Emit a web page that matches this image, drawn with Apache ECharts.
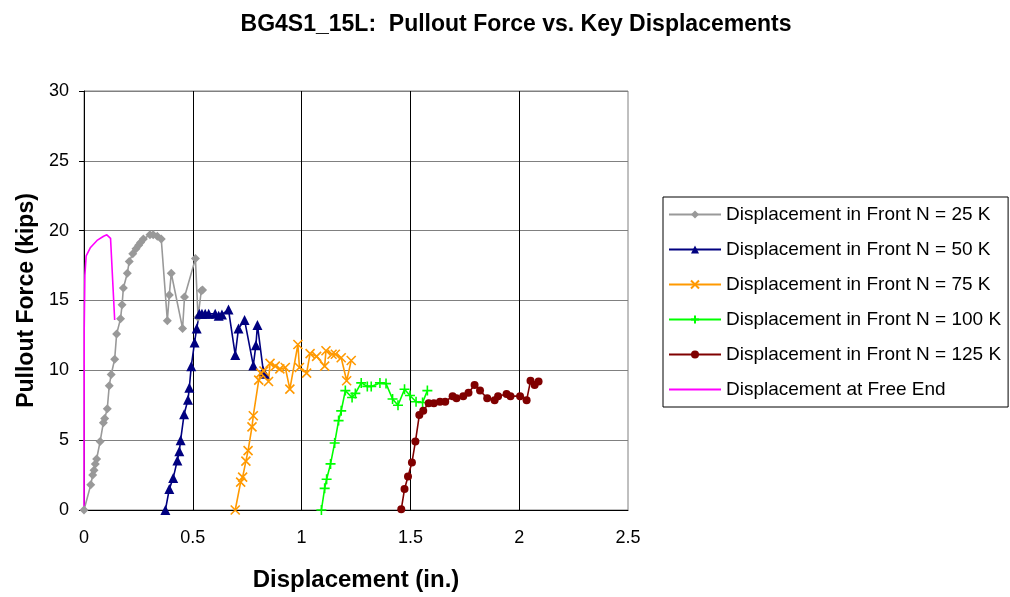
<!DOCTYPE html>
<html>
<head>
<meta charset="utf-8">
<script src="https://cdn.jsdelivr.net/npm/echarts@6/dist/echarts.min.js"></script>
<style>
  html, body { margin: 0; padding: 0; background: #fff; }
  #main { width: 1010px; height: 597px; }
</style>
</head>
<body>
<div id="main"></div>
<script>
// readings from the picture: [displacement (in.), force (kips)]
var front25 = [[0,0],[0.031,1.8],[0.04,2.5],[0.046,2.85],[0.052,3.3],[0.058,3.65],[0.074,4.9],[0.089,6.25],
  [0.095,6.55],[0.107,7.25],[0.116,8.9],[0.125,9.7],[0.141,10.8],[0.15,12.6],[0.168,13.7],[0.175,14.7],
  [0.181,15.9],[0.199,16.95],[0.208,17.8],[0.224,18.35],[0.239,18.7],[0.251,18.95],[0.26,19.15],[0.273,19.4],
  [0.303,19.7],[0.318,19.7],[0.337,19.6],[0.355,19.4],[0.383,13.55],[0.392,15.4],[0.401,16.95],[0.453,13.0],
  [0.462,15.25],[0.512,18.0],[0.524,13.8],[0.539,15.7],[0.545,15.75]];
var front50 = [[0.374,0],[0.392,1.5],[0.41,2.3],[0.429,3.55],[0.438,4.2],[0.444,5.0],[0.46,6.85],[0.478,7.9],
  [0.484,8.75],[0.493,10.3],[0.508,12.0],[0.518,13.0],[0.53,14.05],[0.542,14.05],[0.557,14.05],[0.573,14.05],
  [0.603,14.05],[0.619,13.9],[0.634,14.0],[0.664,14.35],[0.695,11.1],[0.71,13.0],[0.738,13.6],[0.778,10.35],
  [0.79,11.8],[0.797,13.25],[0.824,9.95],[0.83,9.75]];
var front75 = [[0.695,0],[0.72,2.0],[0.729,2.35],[0.744,3.5],[0.754,4.25],[0.772,5.95],[0.778,6.75],[0.803,9.3],
  [0.812,9.8],[0.827,9.95],[0.848,9.2],[0.855,10.5],[0.879,10.3],[0.9,10.1],[0.925,10.2],[0.946,8.65],
  [0.983,11.85],[0.99,10.2],[1.023,9.8],[1.039,11.2],[1.069,11.0],[1.106,10.3],[1.112,11.4],[1.14,11.15],
  [1.155,11.15],[1.182,10.9],[1.207,9.25],[1.228,10.7]];
var front100 = [[1.091,0],[1.106,1.55],[1.115,2.2],[1.133,3.3],[1.152,4.8],[1.17,6.4],[1.182,7.1],[1.201,8.55],
  [1.232,8.05],[1.247,8.35],[1.274,9.1],[1.302,8.85],[1.32,8.85],[1.36,9.1],[1.388,9.05],[1.418,7.95],
  [1.443,7.5],[1.473,8.65],[1.498,8.2],[1.526,7.75],[1.556,7.7],[1.578,8.55]];
var front125 = [[1.458,0.05],[1.473,1.5],[1.489,2.4],[1.507,3.4],[1.523,4.9],[1.541,6.8],[1.559,7.1],[1.584,7.65],
  [1.608,7.65],[1.636,7.75],[1.66,7.75],[1.694,8.15],[1.712,8.0],[1.743,8.15],[1.767,8.4],[1.795,8.95],
  [1.82,8.55],[1.853,8.0],[1.887,7.85],[1.903,8.15],[1.942,8.3],[1.96,8.15],[2.004,8.15],[2.034,7.85],
  [2.052,9.25],[2.071,8.95],[2.089,9.2]];
var freeEnd = [[0,0],[0.001,13.0],[0.004,16.8],[0.01,18.2],[0.03,18.8],[0.06,19.3],[0.09,19.6],[0.105,19.7],
  [0.122,19.45],[0.141,13.6]];

var seriesNames = ['Displacement in Front N = 25 K','Displacement in Front N = 50 K','Displacement in Front N = 75 K',
  'Displacement in Front N = 100 K','Displacement in Front N = 125 K','Displacement at Free End'];

var FONT = '"Liberation Sans", Arial, sans-serif';
var crossX = 'path://M0,0L10,10M10,0L0,10';
var plusSym = 'path://M5,0L5,10M0,5L10,5';

function lineSeries(name, data, color, symbol, size, stroke) {
  return {
    name: name, type: 'line', data: data, symbol: symbol, symbolSize: size,
    showSymbol: symbol !== 'none', animation: false, z: 2,
    lineStyle: { color: color, width: 1.6 },
    itemStyle: stroke ? { color: color, borderColor: color, borderWidth: 1.6 } : { color: color, borderWidth: 0 }
  };
}

var legendData = seriesNames.map(function (n, i) {
  // free end has no marker, hide the legend symbol
  return i === 5 ? { name: n, itemStyle: { color: 'rgba(0,0,0,0)', borderWidth: 0 } } : { name: n };
});

var myChart = echarts.init(document.getElementById('main'));
myChart.setOption({
  backgroundColor: '#fff',
  animation: false,
  title: {
    text: 'BG4S1_15L:  Pullout Force vs. Key Displacements',
    left: 511, top: 8, textAlign: 'center',
    textStyle: { fontFamily: FONT, fontSize: 23, fontWeight: 'bold', color: '#000' }
  },
  grid: { left: 84, top: 91, width: 544, height: 421, show: true, borderColor: '#808080', borderWidth: 1 },
  legend: {
    orient: 'vertical', left: 663, top: 197,
    itemWidth: 52, itemHeight: 10, itemGap: 16,
    padding: [8, 7, 8, 5],
    borderColor: '#000', borderWidth: 1,
    textStyle: { fontFamily: FONT, fontSize: 19, color: '#000' },
    data: legendData
  },
  xAxis: {
    type: 'value', min: 0, max: 2.5, interval: 0.5,
    name: 'Displacement (in.)', nameLocation: 'middle', nameGap: 58,
    nameTextStyle: { fontFamily: FONT, fontSize: 24, fontWeight: 'bold', color: '#000' },
    axisLine: { show: true, lineStyle: { color: '#000', width: 1 } },
    axisTick: { show: false },
    axisLabel: { fontFamily: FONT, fontSize: 18, color: '#000', margin: 19 },
    splitLine: { show: true, showMinLine: false, showMaxLine: false, lineStyle: { color: '#000', width: 1 } }
  },
  yAxis: {
    type: 'value', min: 0, max: 30, interval: 5,
    name: 'Pullout Force (kips)', nameLocation: 'middle', nameGap: 44,
    nameTextStyle: { fontFamily: FONT, fontSize: 23, fontWeight: 'bold', color: '#000' },
    axisLine: { show: true, lineStyle: { color: '#000', width: 1 } },
    axisTick: { show: true, length: 5, lineStyle: { color: '#000' } },
    axisLabel: { fontFamily: FONT, fontSize: 18, color: '#000', margin: 15 },
    splitLine: { show: true, showMinLine: false, lineStyle: { color: '#808080', width: 1 } }
  },
  series: [
    lineSeries(seriesNames[0], front25, '#999999', 'diamond', 9, false),
    lineSeries(seriesNames[1], front50, '#000080', 'triangle', 10, false),
    lineSeries(seriesNames[2], front75, '#FF9900', crossX, 9, true),
    lineSeries(seriesNames[3], front100, '#00FF00', plusSym, 10, true),
    lineSeries(seriesNames[4], front125, '#800000', 'circle', 8, false),
    lineSeries(seriesNames[5], freeEnd, '#FF00FF', 'none', 0, false)
  ]
});
</script>
</body>
</html>
